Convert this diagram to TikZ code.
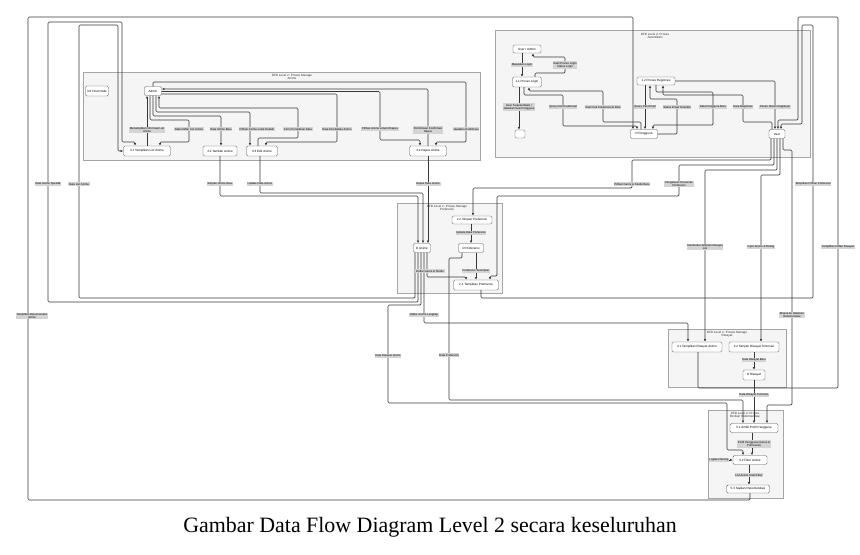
\documentclass[tikz,border=0pt]{standalone}
\usepackage{fontspec}
\setmainfont{Liberation Sans}
\newfontfamily\captionfont{Liberation Serif}
\usetikzlibrary{arrows.meta}

\tikzset{
    proc/.style={draw=black!65, fill=white, rounded corners=1.2pt, line width=0.4pt,
        inner sep=0pt, align=center, font=\fontsize{2.6}{3}\selectfont},
    sz/.style 2 args={minimum width={#1*0.03cm}, minimum height={#2*0.03cm}},
    lbl/.style={fill=black!17, inner sep=0.6pt, align=center, font=\fontsize{2.4}{2.8}\selectfont},
    flow/.style={draw=black!78, line width=0.5pt, rounded corners=1pt, -{Latex[length=2.2pt,width=2pt]}},
    grp/.style={draw=black!35, fill=black!4, line width=0.45pt},
    grptitle/.style={align=center, font=\fontsize{2.6}{3}\selectfont, text=black!80}
}

\begin{document}
\begin{tikzpicture}[x=0.03cm, y=-0.03cm]

    \useasboundingbox (0,0) rectangle (860,555);

    \draw[grp] (495,30) rectangle (810,157);
    \draw[grp] (83,72) rectangle (480,160);
    \draw[grp] (397,203) rectangle (502,293);
    \draw[grp] (668,329) rectangle (786,387);
    \draw[grp] (708,410) rectangle (783,498);

    \node[grptitle] (tauth) at (655,36) {DFD Level 2: Proses\\Autentikasi};
    \node[grptitle] (tanime) at (292,77) {DFD Level 2: Proses Manage\\Anime};
    \node[grptitle] (tpref) at (447,208) {DFD Level 2: Proses Manage\\Preferensi};
    \node[grptitle] (triw) at (727,334) {DFD Level 2: Proses Manage\\Riwayat};
    \node[grptitle] (trek) at (745,415) {DFD Level 2: Proses\\Berikan Rekomendasi};

    \node[proc, sz={28}{8}] (useradmin) at (527,49) {User / Admin};
    \node[proc, sz={29}{10}] (login) at (527,82) {1.1 Proses Login};
    \node[proc, sz={10}{8}] (endn) at (520,134) {};
    \node[proc, sz={38}{8}] (reg) at (656,81) {1.2 Proses Registrasi};
    \node[proc, sz={27}{9}] (dpengguna) at (644,134) {D Pengguna};
    \node[proc, sz={16}{9}] (user) at (777,134) {User};

    \node[proc, sz={23}{10}] (dfinal) at (97,91) {3.0 Final Node};
    \node[proc, sz={17}{9}] (admin) at (153,91) {Admin};
    \node[proc, sz={47}{10}] (t31) at (147,151) {3.1 Tampilkan List Anime};
    \node[proc, sz={34}{10}] (t32) at (220,151) {3.2 Tambah Anime};
    \node[proc, sz={31}{10}] (t33) at (262,151) {3.3 Edit Anime};
    \node[proc, sz={37}{10}] (t34) at (428,151) {3.4 Hapus Anime};

    \node[proc, sz={17}{9}] (danime) at (422,248) {D Anime};
    \node[proc, sz={40}{8}] (simpan) at (472,220) {2.2 Simpan Preferensi};
    \node[proc, sz={25}{9}] (dpref) at (471,248) {D Preferensi};
    \node[proc, sz={45}{10}] (tampil) at (476,285) {2.1 Tampilkan Preferensi};

    \node[proc, sz={50}{10}] (r41) at (697,347) {4.1 Tampilkan Riwayat Anime};
    \node[proc, sz={50}{10}] (r42) at (754,347) {4.2 Simpan Riwayat Tontonan};
    \node[proc, sz={22}{10}] (driw) at (754,375) {D Riwayat};

    \node[proc, sz={48}{9}] (p51) at (754,428) {5.1 Ambil Profil Pengguna};
    \node[proc, sz={34}{9}] (p52) at (750,460) {5.2 Filter Anime};
    \node[proc, sz={43}{8}] (p53) at (748,489) {5.3 Sajikan Rekomendasi};

    \draw[flow] (useradmin.south -| 522,0) -- (login.north -| 522,0);
    \draw[flow] (login.north -| 535,0) -- (535,73) -- (565,73) -- (565,57) -- (533,57) -- (useradmin.south -| 533,0);
    \draw[flow] (login.south -| 519,0) -- (endn.north -| 519,0);
    \draw[flow] (login.south -| 524,0) -- (524,95) -- (563,95) -- (563,126) -- (637,126) -- (dpengguna.north -| 637,0);
    \draw[flow] (dpengguna.north -| 641,0) -- (641,122) -- (603,122) -- (603,91) -- (529,91) -- (login.south -| 529,0);
    \draw[flow] (reg.south -| 645,0) -- (dpengguna.north -| 645,0);
    \draw[flow] (dpengguna.east) -- (677,134) -- (677,99) -- (650,99) -- (reg.south -| 650,0);
    \draw[flow] (reg.south -| 656,0) -- (656,92) -- (713,92) -- (713,125) -- (653,125) -- (dpengguna.north -| 653,0);
    \draw[flow] (user.north -| 772,0) -- (772,122) -- (743,122) -- (743,95) -- (663,95) -- (reg.south -| 663,0);
    \draw[flow] (reg.east) -| (user.north -| 775,0);

    \draw[flow] (t31.north -| 147,0) -- (admin.south -| 147,0);
    \draw[flow] (admin.south -| 150,0) -- (150,120) -- (189,120) -- (189,142) -- (160,142) -- (t31.north -| 160,0);
    \draw[flow] (admin.south -| 153,0) -- (153,116) -- (221,116) -- (t32.north -| 221,0);
    \draw[flow] (admin.south -| 156,0) -- (156,112) -- (250,112) -- (t33.north -| 250,0);
    \draw[flow] (t33.north -| 258,0) -- (258,138) -- (298,138) -- (298,108) -- (159,108) -- (admin.south -| 159,0);
    \draw[flow] (admin.east |- 0,94) -- (337,94) -- (337,142) -- (266,142) -- (t33.north -| 266,0);
    \draw[flow] (admin.east |- 0,91.5) -- (380,91.5) -- (380,140) -- (420,140) -- (t34.north -| 420,0);
    \draw[flow] (t34.north -| 428,0) -- (428,89) -- (admin.east |- 0,89);
    \draw[flow] (admin.north) -- (153,82) -- (466,82) -- (466,142) -- (436,142) -- (t34.north -| 436,0);

    \draw[flow] (danime.south -| 418,0) -- (418,302) -- (48,302) -- (48,22) -- (122,22) -- (122,142) -- (135,142) -- (t31.north -| 135,0);
    \draw[flow] (danime.south -| 415,0) -- (415,298) -- (79,298) -- (79,25) -- (118,25) -- (118,151) -- (t31.west);
    \draw[flow] (t32.south) -- (220,196) -- (418,196) -- (danime.north -| 418,0);
    \draw[flow] (t33.south -| 260,0) -- (260,193) -- (423,193) -- (danime.north -| 423,0);
    \draw[flow] (t34.south -| 428,0) -- (danime.north -| 428,0);

    \draw[flow] (simpan.south -| 471,0) -- (dpref.north -| 471,0);
    \draw[flow] (danime.south -| 427,0) -- (427,277) -- (466,277) -- (tampil.north -| 466,0);
    \draw[flow] (dpref.south -| 476,0) -- (tampil.north -| 476,0);
    \draw[flow] (user.south -| 771,0) -- (771,160) -- (632,160) -- (632,188) -- (473,188) -- (simpan.north -| 473,0);
    \draw[flow] (user.south -| 774,0) -- (774,165) -- (679,165) -- (679,196) -- (497,196) -- (497,276) -- (490,276) -- (tampil.north -| 490,0);
    \draw[flow] (tampil.south -| 481,0) -- (481,298) -- (813,298) -- (813,25) -- (802,25) -- (802,124) -- (781,124) -- (user.north -| 781,0);

    \draw[flow] (user.south -| 777,0) -- (777,170) -- (705,170) -- (r41.north -| 705,0);
    \draw[flow] (user.south -| 780,0) -- (780,175) -- (761,175) -- (r42.north -| 761,0);
    \draw[flow] (user.south -| 783,0) -- (783,150) -- (792,150) -- (792,405) -- (767,405) -- (p51.north -| 767,0);
    \draw[flow] (danime.south -| 424,0) -- (424,323) -- (688,323) -- (r41.north -| 688,0);
    \draw[flow] (r42.south -| 754,0) -- (driw.north -| 754,0);
    \draw[flow] (r41.south -| 698,0) -- (698,388) -- (838,388) -- (838,17) -- (798,17) -- (798,120) -- (778,120) -- (user.north -| 778,0);
    \draw[flow] (driw.south -| 754,0) -- (p51.north -| 754,0);

    \draw[flow] (danime.south -| 421,0) -- (421,305) -- (388,305) -- (388,403) -- (727,403) -- (727,450) -- (743,450) -- (p52.north -| 743,0);
    \draw[flow] (dpref.south -| 462,0) -- (462,258) -- (449,258) -- (449,400) -- (743,400) -- (p51.north -| 743,0);
    \draw[flow] (p51.south -| 752,0) -- (p52.north -| 752,0);
    \draw[flow] (p52.south -| 749,0) -- (p53.north -| 749,0);
    \draw[flow] (p53.south -| 750,0) -- (750,500) -- (28,500) -- (28,17) -- (633,17) -- (dpengguna.north -| 633,0);

    \node[lbl] (lmasuk) at (522,65) {Masukkan Login};
    \node[lbl] (lhasil) at (565,65) {Hasil Proses Login\\Status Login};
    \node[lbl] (lsesi) at (519,107) {User Terautentikasi /\\Jalankan Sesi Pengguna};
    \node[lbl] (lqkred) at (563,107) {Query Cek Kredensial};
    \node[lbl] (lhkred) at (603,107) {Hasil Cek Kredensial \& Role};
    \node[lbl] (lqemail) at (645,107) {Query Cek Email};
    \node[lbl] (lsemail) at (677,107) {Status Email Tersedia};
    \node[lbl] (lbaru) at (713,107) {Data Pengguna Baru};
    \node[lbl] (ldreg) at (743,107) {Data Registrasi};
    \node[lbl] (lpesan) at (775,107) {Pesan Status Registrasi};

    \node[lbl] (linfo) at (147,130) {Menampilkan Informasi List\\Anime};
    \node[lbl] (ldaftar) at (189,129) {Data Daftar List Anime};
    \node[lbl] (lanbaru) at (221,129) {Data Anime Baru};
    \node[lbl] (lubah) at (257,129) {Pilihan Anime untuk Diubah};
    \node[lbl] (lform) at (298,129) {Form Perubahan Data};
    \node[lbl] (lperub) at (337,129) {Data Perubahan Anime};
    \node[lbl] (lhapus) at (380,129) {Pilihan Anime untuk Dihapus};
    \node[lbl] (lkonf) at (428,130) {Permintaan Konfirmasi\\Hapus};
    \node[lbl] (ljawab) at (466,129) {Jawaban Konfirmasi};

    \node[lbl] (lspes) at (48,184) {Data Anime Spesifik};
    \node[lbl] (llist) at (79,184) {Data List Anime};
    \node[lbl] (lsimpanan) at (220,184) {Simpan Anime Baru};
    \node[lbl] (lupdate) at (260,184) {Update Data Anime};
    \node[lbl] (lhapusan) at (428,184) {Hapus Data Anime};
    \node[lbl] (lgenre) at (632,184) {Pilihan Genre \& Studio Baru};
    \node[lbl] (lcari) at (679,184) {Pengaturan Pencarian\\Preferensi};
    \node[lbl] (ltpil) at (813,184) {Tampilkan Pilihan Preferensi};

    \node[lbl] (lupref) at (471,233) {Update Data Preferensi};
    \node[lbl] (ldgs) at (430,271) {Daftar Genre \& Studio};
    \node[lbl] (ltersimpan) at (476,271) {Preferensi Tersimpan};

    \node[lbl] (lbuka) at (705,247) {Membuka Halaman Riwayat\\List};
    \node[lbl] (linput) at (761,247) {Input Anime \& Rating};
    \node[lbl] (ldriw) at (838,247) {Tampilkan Daftar Riwayat};
    \node[lbl] (llengkap) at (424,315) {Daftar Anime Lengkap};
    \node[lbl] (lrekmasuk) at (792,315) {Masuk ke Halaman\\Rekomendasi};
    \node[lbl] (ltampilrek) at (32,316) {Tampilkan Rekomendasi\\Anime};
    \node[lbl] (lriwanime) at (388,356) {Data Riwayat Anime};
    \node[lbl] (ldpref) at (449,355) {Data Preferensi};
    \node[lbl] (lrbaru) at (754,360) {Data Riwayat Baru};
    \node[lbl] (ltonton) at (754,395) {Data Riwayat Tontonan};

    \node[lbl] (lprofil) at (754,444) {Profil Pengguna (Genre \&\\Preferensi)};
    \node[lbl] (lflt) at (719,460) {Logika Filtering};
    \node[lbl] (lhasilf) at (749,475) {List Anime Hasil Filter};
    \draw[flow] (lflt) -- (p52);

    \node[font=\captionfont\fontsize{18.7}{22}\selectfont] (caption) at (430,527)
        {Gambar Data Flow Diagram Level 2 secara keseluruhan};

\end{tikzpicture}
\end{document}
